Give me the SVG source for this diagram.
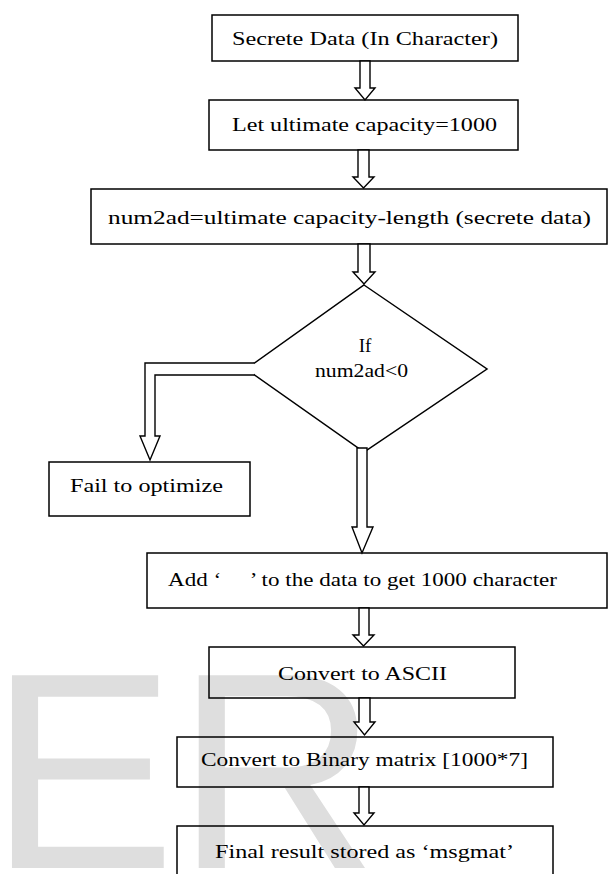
<svg xmlns="http://www.w3.org/2000/svg" width="608" height="874" viewBox="0 0 608 874">
<style>
.box{fill:none;stroke:#000;stroke-width:1.5}
.arr{fill:#fff;stroke:#000;stroke-width:1.4;stroke-linejoin:miter}
.t{font-family:"Liberation Serif","DejaVu Serif",serif;font-size:19px;fill:#000}
.wm{font-family:"Liberation Sans",Arial,sans-serif;font-size:280px;fill:#dedede}
</style>
<rect width="608" height="874" fill="#fff"/>
<text class="wm" x="-11" y="868">ER</text>
<g id="n1"><rect class="box" x="212" y="15" width="306" height="46"/><text class="t" x="232" y="45" textLength="266" lengthAdjust="spacingAndGlyphs">Secrete Data (In Character)</text></g>
<g id="n2"><rect class="box" x="209" y="100" width="309" height="50"/><text class="t" x="232" y="131" textLength="265" lengthAdjust="spacingAndGlyphs">Let ultimate capacity=1000</text></g>
<g id="n3"><rect class="box" x="91" y="189" width="516" height="55"/><text class="t" x="108" y="224" textLength="483" lengthAdjust="spacingAndGlyphs">num2ad=ultimate capacity-length (secrete data)</text></g>
<g id="n4"><polygon class="box" points="364,285 487,369 364,452 246,369"/><text class="t" x="365" y="352" text-anchor="middle">If</text><text class="t" x="315" y="377" textLength="93" lengthAdjust="spacingAndGlyphs">num2ad&lt;0</text></g>
<g id="n5"><rect class="box" x="49" y="462" width="201" height="54"/><text class="t" x="70" y="492" textLength="153" lengthAdjust="spacingAndGlyphs">Fail to optimize</text></g>
<g id="n6"><rect class="box" x="147" y="553" width="460" height="55"/><text class="t" x="168" y="586" textLength="389" lengthAdjust="spacingAndGlyphs">Add ‘&#160;&#160;&#160;&#160;&#160;’ to the data to get 1000 character</text></g>
<g id="n7"><rect class="box" x="209" y="647" width="306" height="51"/><text class="t" x="278" y="680" textLength="169" lengthAdjust="spacingAndGlyphs">Convert to ASCII</text></g>
<g id="n8"><rect class="box" x="177" y="737" width="376" height="50"/><text class="t" x="201" y="766" textLength="327" lengthAdjust="spacingAndGlyphs">Convert to Binary matrix [1000*7]</text></g>
<g id="n9"><rect class="box" x="177" y="826" width="376" height="60"/><text class="t" x="215" y="858" textLength="299" lengthAdjust="spacingAndGlyphs">Final result stored as ‘msgmat’</text></g>
<g id="connectors">
<polygon class="arr" points="360,61 370,61 370,88 375,88 365,100 355,88 360,88"/>
<polygon class="arr" points="358,150 369,150 369,177 374,177 363.5,188 353,177 358,177"/>
<polygon class="arr" points="358,244 370,244 370,272 375,272 364,284 353,272 358,272"/>
<path class="arr" d="M254,363 H145 V436 H140 L150,460 L160,436 H155 V375 H254"/>
<polygon class="arr" points="357,448 367,448 367,527 373,527 362,553 352,527 357,527"/>
<polygon class="arr" points="359,608 369,608 369,635 374,635 363.5,646 353,635 359,635"/>
<polygon class="arr" points="359,698 370,698 370,722 375,722 364.5,735 354,722 359,722"/>
<polygon class="arr" points="359,787 369,787 369,813 374,813 364,825 354,813 359,813"/>
</g>
</svg>
